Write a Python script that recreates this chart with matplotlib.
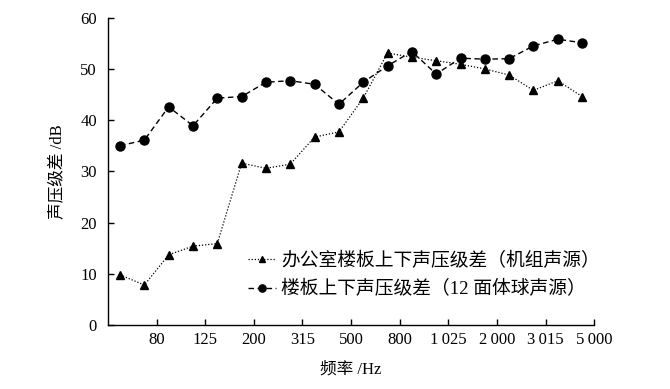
import numpy as np
import matplotlib
matplotlib.use("Agg")
import matplotlib.pyplot as plt

plt.rcParams["font.family"] = ["Liberation Serif", "Noto Sans CJK SC"]

# 1/3 octave bands 50 Hz ... 4000 Hz (20 bands), labels placed every second band boundary
BANDS = ["50", "63", "80", "100", "125", "160", "200", "250", "315", "400",
         "500", "630", "800", "1000", "1250", "1600", "2000", "2500", "3150", "4000"]
TICK_LABELS = ["80", "125", "200", "315", "500", "800", "1\u2009025", "2\u2009000", "3\u2009015", "5\u2009000"]

UNIT_SRC = [9.8, 7.8, 13.7, 15.4, 15.9, 31.6, 30.6, 31.4, 36.7, 37.7,
            44.3, 53.1, 52.3, 51.6, 50.9, 50.0, 48.8, 45.8, 47.7, 44.6]
SPHERE_SRC = [35.0, 36.1, 42.6, 38.9, 44.3, 44.6, 47.4, 47.7, 47.0, 43.1,
              47.4, 50.6, 53.4, 49.0, 52.1, 51.9, 52.0, 54.5, 55.8, 55.1]

LABEL_UNIT = "办公室楼板上下声压级差（机组声源）"
LABEL_SPHERE = "楼板上下声压级差（12 面体球声源）"

fig = plt.figure(figsize=(6.7, 3.89), dpi=100)
ax = fig.add_axes([0.161, 0.1645, 0.726, 0.79])

x = np.arange(len(BANDS))
ax.plot(x, UNIT_SRC, color="black", linestyle=(0, (1, 1.5)), linewidth=0.9,
        marker="^", markersize=6, label=LABEL_UNIT)
ax.plot(x, SPHERE_SRC, color="black", linestyle=(0, (4, 2.5)), linewidth=1.0,
        marker="o", markersize=6.5, label=LABEL_SPHERE)

ax.set_xlim(-0.5, len(BANDS) - 0.5)
ax.set_ylim(0, 60)
ax.set_yticks(np.arange(0, 61, 10))
ax.set_xticks(np.arange(1.5, len(BANDS), 2))
ax.set_xticklabels(TICK_LABELS)
ax.tick_params(axis="both", direction="in", length=4, width=1, labelsize=12)
ax.tick_params(axis="x", pad=5)
ax.tick_params(axis="y", pad=8)
ax.spines["top"].set_visible(False)
ax.spines["right"].set_visible(False)
for s in ("left", "bottom"):
    ax.spines[s].set_linewidth(1.0)

ax.set_xlabel("频率 /Hz", fontsize=12, labelpad=10)
ax.set_ylabel("声压级差 /dB", fontsize=12, labelpad=10)

leg = ax.legend(loc="lower right", bbox_to_anchor=(1.035, 0.05), frameon=False,
                fontsize=13.5, handlelength=1.5, handletextpad=0.3, labelspacing=0.55,
                borderaxespad=0.2, markerscale=0.8)

fig.savefig("out.png", dpi=100, facecolor="white")
